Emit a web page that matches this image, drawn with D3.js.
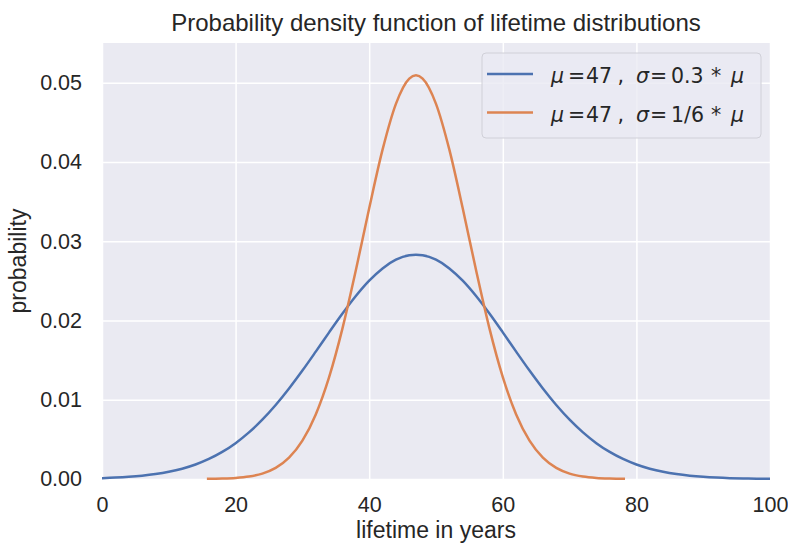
<!DOCTYPE html>
<html>
<head>
<meta charset="utf-8">
<script src="https://cdn.jsdelivr.net/npm/d3@7"></script>
<style>
  body { margin: 0; background: #fff; }
  text { font-family: "Liberation Sans", Arial, sans-serif; fill: #262626; }
</style>
</head>
<body>
<div id="chart"></div>
<script>
// values (x in years, y = probability)
const blueX = [0, 2, 4, 6, 8, 10, 12, 14, 16, 18, 20, 22, 24, 26, 28, 30, 32, 34, 36, 38, 40, 42, 44, 46, 47,
  48, 50, 52, 54, 56, 58, 60, 62, 64, 66, 68, 70, 72, 74, 76, 78, 80, 82, 84, 86, 88, 90, 92, 94, 96, 98, 100];
const blueY = [0.000109, 0.000174, 0.000271, 0.000413, 0.000617, 0.000904, 0.001299, 0.001829, 0.002524, 0.003413,
  0.004524, 0.005877, 0.007481, 0.009334, 0.011414, 0.013677, 0.016065, 0.018498, 0.020869, 0.023079,
  0.025014, 0.026567, 0.027659, 0.028222, 0.028293,
  0.028222, 0.027659, 0.026567, 0.025014, 0.023079, 0.020869, 0.018498, 0.016065, 0.013677, 0.011414,
  0.009334, 0.007481, 0.005877, 0.004524, 0.003413, 0.002524, 0.001829, 0.001299, 0.000904, 0.000617,
  0.000413, 0.000271, 0.000174, 0.000109, 0.0000675, 0.0000408, 0.0000242];

const orangeX = [15.7, 18, 20, 22, 24, 26, 28, 30, 32, 34, 36, 38, 40, 42, 44, 46, 47,
  48, 50, 52, 54, 56, 58, 60, 62, 64, 66, 68, 70, 72, 74, 76, 78.3];
const orangeY = [0.0000170, 0.0000539, 0.000134, 0.000313, 0.000683, 0.001400, 0.002688, 0.004833, 0.008144,
  0.012850, 0.019002, 0.026325, 0.034163, 0.041543, 0.047328, 0.050515, 0.050929,
  0.050515, 0.047328, 0.041543, 0.034163, 0.026325, 0.019002, 0.012850, 0.008144, 0.004833,
  0.002688, 0.001400, 0.000683, 0.000313, 0.000134, 0.0000539, 0.0000170];

const xTicks = [0, 20, 40, 60, 80, 100];
const yTicks = [0, 0.01, 0.02, 0.03, 0.04, 0.05];

const legendLabels = ['0.3', '1/6'];

const width = 788;
const height = 545;
const margin = { top: 43, right: 18, bottom: 66, left: 102 };
const plotW = width - margin.left - margin.right;
const plotH = height - margin.top - margin.bottom;

const svg = d3.select('#chart')
  .append('svg')
  .attr('width', width)
  .attr('height', height);

const xScale = d3.scaleLinear().domain([0, 100]).range([0, plotW]);
const yScale = d3.scaleLinear().domain([0, 0.055]).range([plotH, 0]);

const g = svg.append('g')
  .attr('transform', `translate(${margin.left}, ${margin.top})`);

g.append('rect')
  .attr('width', plotW)
  .attr('height', plotH)
  .attr('fill', '#eaeaf2');

// grid
g.append('g')
  .call(d3.axisBottom(xScale).tickValues(xTicks).tickSize(plotH).tickFormat(''))
  .call((a) => a.select('.domain').remove())
  .call((a) => a.selectAll('line').attr('stroke', '#fff').attr('stroke-width', 1.5));

g.append('g')
  .call(d3.axisLeft(yScale).tickValues(yTicks).tickSize(-plotW).tickFormat(''))
  .call((a) => a.select('.domain').remove())
  .call((a) => a.selectAll('line').attr('stroke', '#fff').attr('stroke-width', 1.5));

// tick labels
const xAxis = g.append('g')
  .attr('transform', `translate(0, ${plotH})`)
  .call(d3.axisBottom(xScale).tickValues(xTicks).tickSize(0).tickPadding(18).tickFormat(d3.format('d')));
xAxis.select('.domain').remove();
xAxis.selectAll('text').attr('font-size', 21.5).attr('font-family', null).attr('fill', '#262626');

const yAxis = g.append('g')
  .call(d3.axisLeft(yScale).tickValues(yTicks).tickSize(0).tickPadding(20).tickFormat(d3.format('.2f')));
yAxis.select('.domain').remove();
yAxis.selectAll('text').attr('font-size', 21.5).attr('font-family', null).attr('fill', '#262626');

g.append('clipPath').attr('id', 'clip')
  .append('rect').attr('width', plotW).attr('height', plotH + 4).attr('y', -2);

const line = d3.line()
  .x((d) => xScale(d[0]))
  .y((d) => yScale(d[1]))
  .curve(d3.curveMonotoneX);

const series = [
  { xs: blueX, ys: blueY, color: '#4c72b0' },
  { xs: orangeX, ys: orangeY, color: '#dd8452' },
];

series.forEach((s) => {
  g.append('path')
    .datum(s.xs.map((x, i) => [x, s.ys[i]]))
    .attr('clip-path', 'url(#clip)')
    .attr('fill', 'none')
    .attr('stroke', s.color)
    .attr('stroke-width', 2.5)
    .attr('d', line);
});

// title and axis labels
svg.append('text')
  .attr('x', margin.left + plotW / 2)
  .attr('y', 31)
  .attr('text-anchor', 'middle')
  .attr('font-size', 24)
  .text('Probability density function of lifetime distributions');

svg.append('text')
  .attr('x', margin.left + plotW / 2)
  .attr('y', 538)
  .attr('text-anchor', 'middle')
  .attr('font-size', 23)
  .text('lifetime in years');

svg.append('text')
  .attr('transform', `translate(26, ${margin.top + plotH / 2}) rotate(-90)`)
  .attr('text-anchor', 'middle')
  .attr('font-size', 23)
  .text('probability');

// legend
const legend = svg.append('g').attr('transform', 'translate(482, 53)');
legend.append('rect')
  .attr('width', 279)
  .attr('height', 85)
  .attr('rx', 4)
  .attr('fill', '#eaeaf2')
  .attr('fill-opacity', 0.8)
  .attr('stroke', '#d0d0d8');

series.forEach((s, i) => {
  const y = 21 + i * 38.5;
  legend.append('line')
    .attr('x1', 5).attr('x2', 51)
    .attr('y1', y).attr('y2', y)
    .attr('stroke', s.color)
    .attr('stroke-width', 2.5);
  const t = legend.append('text')
    .attr('y', y + 9)
    .style('font-size', '20.5px')
    .style('font-family', '"DejaVu Sans", sans-serif');
  // mathtext tokens placed with matplotlib-like spacing
  const tokens = [
    ['μ', 69, true], ['=', 86, false], ['47', 104, false], [',', 135.5, false],
    ['σ', 154, true], ['=', 168, false], [legendLabels[i], 189, false],
    ['*', 229, false], ['μ', 249, true],
  ];
  tokens.forEach(([txt, x, it]) => {
    t.append('tspan')
      .attr('x', x)
      .style('font-style', it ? 'italic' : null)
      .text(txt);
  });
});
</script>
</body>
</html>
